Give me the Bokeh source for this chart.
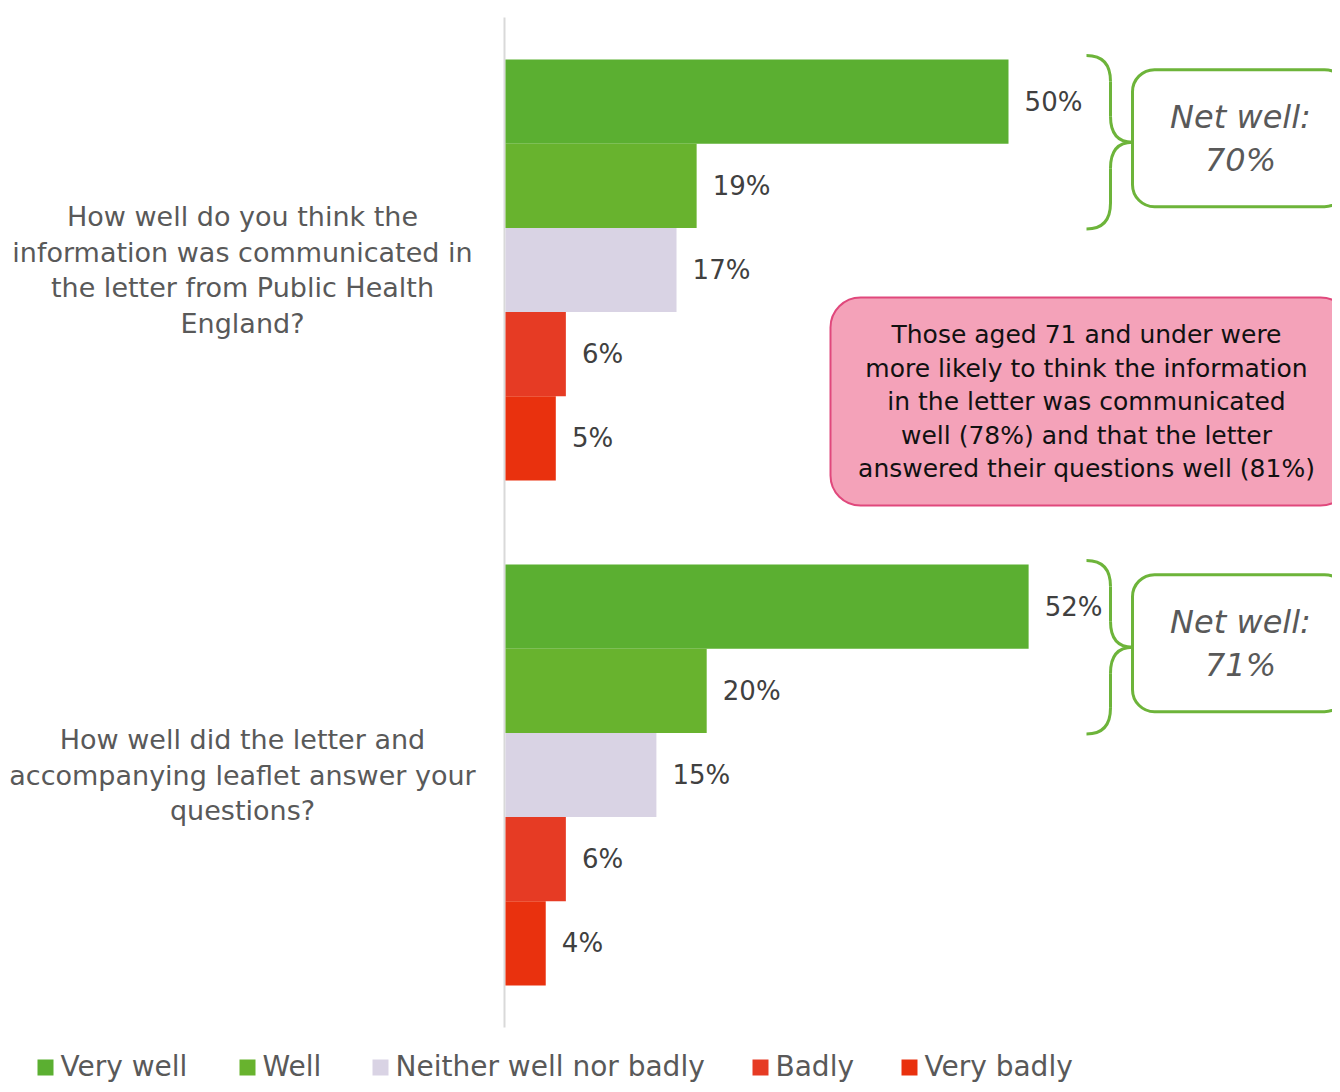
from bokeh.plotting import figure
from bokeh.models import Range1d, BoxAnnotation
from bokeh.core.properties import value
from bokeh.embed import file_html
from bokeh.resources import INLINE

# ---------------- data ----------------
questions = [
    "How well do you think the\ninformation was communicated in\nthe letter from Public Health\nEngland?",
    "How well did the letter and\naccompanying leaflet answer your\nquestions?",
]
responses = ["Very well", "Well", "Neither well nor badly", "Badly", "Very badly"]
colors = ["#5BAF31", "#68B32E", "#D9D3E4", "#E63B24", "#E9310E"]
q1_values = [50, 19, 17, 6, 5]
q2_values = [52, 20, 15, 6, 4]
values = [q1_values, q2_values]
net_well = [70, 71]
callout_text = ("Those aged 71 and under were\nmore likely to think the information\n"
                "in the letter was communicated\nwell (78%) and that the letter\n"
                "answered their questions well (81%)")

# ---------------- layout ----------------
W, H = 1332, 1084
ZERO_X = 505            # pixel of 0 %
PX_PER_PCT = 10.06
GROUP_H = 505
GROUP_TOP = 17
BAR_H = 84.2

def px(X):
    """pixel -> percent units"""
    return (X - ZERO_X) / PX_PER_PCT

FONT = value("DejaVu Sans")

p = figure(width=W, height=H, output_backend="svg", toolbar_location=None,
           x_range=Range1d(px(0), px(W)), y_range=Range1d(H, 0),
           min_border=0, x_axis_location=None, y_axis_location=None,
           outline_line_color=None, background_fill_color="white")
p.grid.visible = False

# axis line
p.segment(x0=[-0.1], y0=[GROUP_TOP], x1=[-0.1], y1=[GROUP_TOP + GROUP_H * len(questions)],
          line_color="#D9D9D9", line_width=2)

green = "#6DB43A"
for g, (q, vals) in enumerate(zip(questions, values)):
    gc = GROUP_TOP + GROUP_H * (g + 0.5)
    ys = [gc + (i - (len(vals) - 1) / 2) * BAR_H for i in range(len(vals))]
    p.hbar(y=ys, left=0, right=vals, height=BAR_H, fill_color=colors, line_color=None)
    p.text(x=[v + 1.6 for v in vals], y=ys, text=[f"{v}%" for v in vals],
           text_baseline="middle", text_align="left", text_font=FONT,
           text_font_size="26px", text_color="#404040")
    # category label
    lines = q.split("\n")
    ly = [gc + (k - (len(lines) - 1) / 2) * 35.7 for k in range(len(lines))]
    p.text(x=[px(242)] * len(lines), y=ly, text=lines, text_align="center",
           text_baseline="middle", text_font=FONT, text_font_size="27px",
           text_color="#595959")
    # brace around top two bars
    top = ys[0] - BAR_H / 2 - 4
    bot = ys[1] + BAR_H / 2 + 1
    mid = (top + bot) / 2
    xa, xb, xc = px(1086), px(1110), px(1132)
    r = 26
    p.quadratic(x0=[xa, xb, xc, xb], y0=[top, mid - r, mid, bot - r],
                x1=[xb, xc, xb, xa], y1=[top + r, mid, mid + r, bot],
                cx=[xb, xb, xb, xb], cy=[top, mid, mid, bot],
                line_color=green, line_width=3)
    p.segment(x0=[xb, xb], y0=[top + r, mid + r], x1=[xb, xb], y1=[mid - r, bot - r],
              line_color=green, line_width=3)
    # net box
    bc = mid - 4
    p.add_layout(BoxAnnotation(left=px(1132), right=px(1346), top=bc - 68.5, bottom=bc + 68.5,
                               border_radius=22, fill_color="white", fill_alpha=1,
                               line_color=green, line_alpha=1, line_width=3,
                               level="underlay"))
    p.text(x=[px(1240), px(1240)], y=[mid - 25, mid + 18],
           text=["Net well:", f"{net_well[g]}%"], text_align="center",
           text_baseline="middle", text_font=FONT, text_font_size="32px",
           text_font_style="italic", text_color="#595959")

# callout
p.add_layout(BoxAnnotation(left=px(830), right=px(1350), top=297, bottom=505,
                           border_radius=30, fill_color="#F4A2B9", fill_alpha=1,
                           line_color="#E0487C", line_alpha=1, line_width=2,
                           level="underlay"))
clines = callout_text.split("\n")
p.text(x=[px(1086)] * len(clines), y=[334 + k * 33.5 for k in range(len(clines))],
       text=clines, text_align="center", text_baseline="middle", text_font=FONT,
       text_font_size="25px", text_color="#111111")

# legend
leg_x = [37, 239, 372, 752, 901]
leg_y = 1066
p.scatter(x=[px(X + 8) for X in leg_x], y=[leg_y + 1] * len(leg_x), marker="square",
          size=16, fill_color=colors, line_color=None)
p.text(x=[px(X + 23) for X in leg_x], y=[leg_y] * len(leg_x), text=responses,
       text_align="left", text_baseline="middle", text_font=FONT,
       text_font_size="28px", text_color="#595959")

open("out.html", "w").write(file_html(p, INLINE))
